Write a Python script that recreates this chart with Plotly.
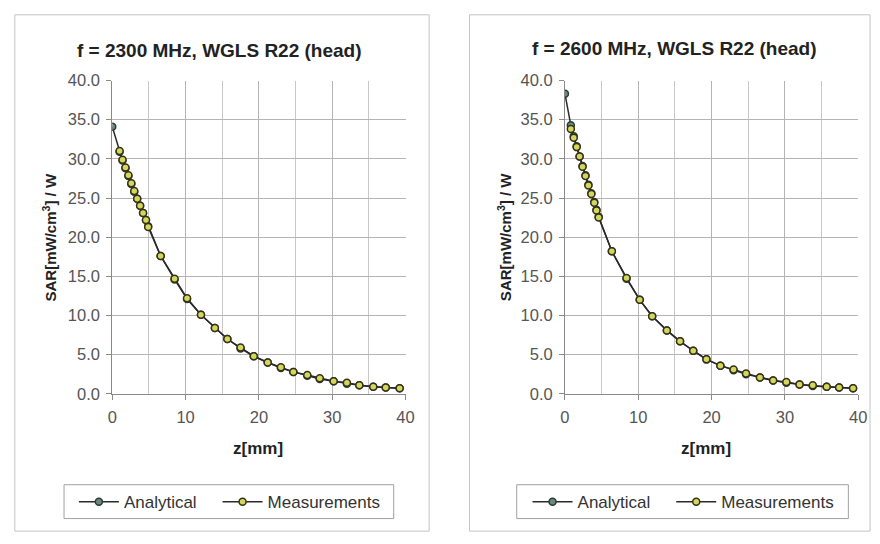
import plotly.graph_objects as go

# ---- data: f = 2300 MHz ----
z_ana_2300 = [0.0, 1.0, 1.4, 1.8, 2.2, 2.6, 3.0, 3.4, 3.8, 4.2, 4.6, 4.9, 6.6, 8.5, 10.2, 12.1, 14.0, 15.7,
              17.5, 19.3, 21.2, 23.0, 24.7, 26.6, 28.3, 30.2, 32.0, 33.7, 35.6, 37.3, 39.2]
sar_ana_2300 = [34.1, 30.9, 29.8, 28.8, 27.8, 26.8, 25.8, 24.9, 24.0, 23.1, 22.2, 21.4, 17.6, 14.6, 12.1, 10.1,
                8.4, 7.0, 5.8, 4.8, 4.0, 3.3, 2.8, 2.3, 1.9, 1.6, 1.3, 1.1, 0.9, 0.8, 0.7]
z_meas_2300 = [1.0, 1.4, 1.8, 2.2, 2.6, 3.0, 3.4, 3.8, 4.2, 4.6, 4.9, 6.6, 8.5, 10.2, 12.1, 14.0, 15.7,
               17.5, 19.3, 21.2, 23.0, 24.7, 26.6, 28.3, 30.2, 32.0, 33.7, 35.6, 37.3, 39.2]
sar_meas_2300 = [31.0, 29.9, 28.9, 27.9, 26.9, 25.9, 24.9, 24.0, 23.1, 22.2, 21.3, 17.6, 14.7, 12.2, 10.1,
                 8.4, 7.0, 5.9, 4.8, 4.0, 3.4, 2.8, 2.4, 2.0, 1.6, 1.4, 1.1, 0.9, 0.8, 0.7]

# ---- data: f = 2600 MHz ----
z_ana_2600 = [0.0, 0.8, 1.2, 1.6, 2.0, 2.4, 2.8, 3.2, 3.6, 4.0, 4.3, 4.6, 6.4, 8.4, 10.2, 11.9, 13.9, 15.7,
              17.5, 19.3, 21.2, 23.0, 24.7, 26.6, 28.4, 30.2, 32.0, 33.8, 35.7, 37.4, 39.3]
sar_ana_2600 = [38.3, 34.3, 32.9, 31.6, 30.3, 29.1, 27.9, 26.7, 25.6, 24.5, 23.5, 22.6, 18.2, 14.7, 12.0, 9.9,
                8.1, 6.7, 5.5, 4.4, 3.6, 3.0, 2.5, 2.1, 1.7, 1.4, 1.2, 1.0, 0.9, 0.8, 0.7]
z_meas_2600 = [0.8, 1.2, 1.6, 2.0, 2.4, 2.8, 3.2, 3.6, 4.0, 4.3, 4.6, 6.4, 8.4, 10.2, 11.9, 13.9, 15.7,
               17.5, 19.3, 21.2, 23.0, 24.7, 26.6, 28.4, 30.2, 32.0, 33.8, 35.7, 37.4, 39.3]
sar_meas_2600 = [33.8, 32.7, 31.5, 30.3, 29.0, 27.8, 26.6, 25.5, 24.4, 23.4, 22.5, 18.2, 14.8, 12.0, 9.9,
                 8.1, 6.7, 5.5, 4.4, 3.6, 3.1, 2.6, 2.1, 1.7, 1.5, 1.2, 1.1, 0.9, 0.8, 0.7]

titles = ["f = 2300 MHz, WGLS R22 (head)", "f = 2600 MHz, WGLS R22 (head)"]
series_names = ["Analytical", "Measurements"]
x_ticks = [0, 10, 20, 30, 40]
y_ticks = [0, 5, 10, 15, 20, 25, 30, 35, 40]

W, H = 880, 544
LINE = "#2a2a2a"
ANA_FILL = "#6b8a7e"
ANA_EDGE = "#2c3a35"
MEAS_FILL = "#d6d65a"
MEAS_EDGE = "#33331a"
FONT = "Arial, Liberation Sans, sans-serif"


def px(x):
    return x / W


def py(y):
    return 1 - y / H


fig = go.Figure()

panels = [
    dict(za=z_ana_2300, sa=sar_ana_2300, zm=z_meas_2300, sm=sar_meas_2300, xa="x", ya="y",
         legs=("legend", "legend3")),
    dict(za=z_ana_2600, sa=sar_ana_2600, zm=z_meas_2600, sm=sar_meas_2600, xa="x2", ya="y2",
         legs=("legend2", "legend4")),
]
for p in panels:
    fig.add_trace(go.Scatter(x=p["za"], y=p["sa"], mode="lines+markers", name=series_names[0],
                             xaxis=p["xa"], yaxis=p["ya"], legend=p["legs"][0],
                             line=dict(color=LINE, width=1.5),
                             marker=dict(symbol="circle", size=7, color=ANA_FILL,
                                         line=dict(color=ANA_EDGE, width=1.5))))
    fig.add_trace(go.Scatter(x=p["zm"], y=p["sm"], mode="lines+markers", name=series_names[1],
                             xaxis=p["xa"], yaxis=p["ya"], legend=p["legs"][1],
                             line=dict(color=LINE, width=1.5),
                             marker=dict(symbol="circle", size=7, color=MEAS_FILL,
                                         line=dict(color=MEAS_EDGE, width=1.5))))

# plot area pixel geometry
left_x = (109, 407)
right_x = (569, 867)
y_top, y_bot = 74, 398

TICKFONT = dict(family=FONT, size=16.5, color="#555555")
xcommon = dict(range=[0, 40], tickvals=x_ticks, ticktext=[str(v) for v in x_ticks],
               showgrid=True, gridcolor="#b4b4b4", gridwidth=1,
               minor=dict(dtick=5, showgrid=True, gridcolor="#c8c8c8", gridwidth=1),
               showline=True, linecolor="#8a8a8a", linewidth=1, mirror=False,
               ticks="outside", ticklen=5, tickcolor="#8a8a8a", ticklabelstandoff=3,
               zeroline=False, tickfont=TICKFONT, fixedrange=True)
ycommon = dict(range=[0, 40], tickvals=y_ticks, ticktext=["%.1f" % v for v in y_ticks],
               showgrid=True, gridcolor="#b4b4b4", gridwidth=1,
               showline=True, linecolor="#8a8a8a", linewidth=1,
               ticks="outside", ticklen=5, tickcolor="#8a8a8a", ticklabelstandoff=3,
               zeroline=False, tickfont=TICKFONT, fixedrange=True)

LEGFONT = dict(family=FONT, size=17, color="#333333")


def leg(x_left):
    return dict(orientation="h", x=px(x_left), y=py(510), xanchor="left", yanchor="middle",
                bgcolor="rgba(0,0,0,0)", borderwidth=0, font=LEGFONT, itemwidth=40)


fig.update_layout(
    width=W, height=H,
    margin=dict(l=0, r=0, t=0, b=0),
    paper_bgcolor="white", plot_bgcolor="white",
    showlegend=True,
    xaxis=dict(domain=[px(left_x[0]), px(left_x[1])], anchor="y", **xcommon),
    yaxis=dict(domain=[py(y_bot), py(y_top)], anchor="x", **ycommon),
    xaxis2=dict(domain=[px(right_x[0]), px(right_x[1])], anchor="y2", **xcommon),
    yaxis2=dict(domain=[py(y_bot), py(y_top)], anchor="x2", **ycommon),
    legend=leg(70),
    legend3=leg(216),
    legend2=leg(531),
    legend4=leg(677),
)

# chart frames
fig.add_shape(type="rect", xref="paper", yref="paper", x0=px(10), x1=px(431), y0=py(540), y1=py(6),
              line=dict(color="#c4c4c4", width=1), layer="below")
fig.add_shape(type="rect", xref="paper", yref="paper", x0=px(472), x1=px(879), y0=py(540), y1=py(6),
              line=dict(color="#c4c4c4", width=1), layer="below")
# legend boxes
for x0, x1 in [(60, 395), (520, 857)]:
    fig.add_shape(type="rect", xref="paper", yref="paper", x0=px(x0), x1=px(x1), y0=py(527), y1=py(492),
                  line=dict(color="#a0a0a0", width=1), layer="below")

# titles and axis titles as annotations
centers = [(218, 43, 45, 257), (680, 41, 507, 712)]
for (tx, ty, yx, xx), t in zip(centers, titles):
    fig.add_annotation(text="<b>%s</b>" % t, x=px(tx), y=py(ty), xref="paper", yref="paper",
                       showarrow=False, xanchor="center", yanchor="middle",
                       font=dict(family=FONT, size=19, color="#222222"))
    fig.add_annotation(text="<b>SAR[mW/cm<sup>3</sup>] / W</b>", x=px(yx), y=py(236), xref="paper",
                       yref="paper", showarrow=False, textangle=-90, xanchor="center", yanchor="middle",
                       font=dict(family=FONT, size=15, color="#222222"))
    fig.add_annotation(text="<b>z[mm]</b>", x=px(xx), y=py(455), xref="paper", yref="paper",
                       showarrow=False, xanchor="center", yanchor="middle",
                       font=dict(family=FONT, size=17, color="#222222"))

fig.write_html("out.html")
